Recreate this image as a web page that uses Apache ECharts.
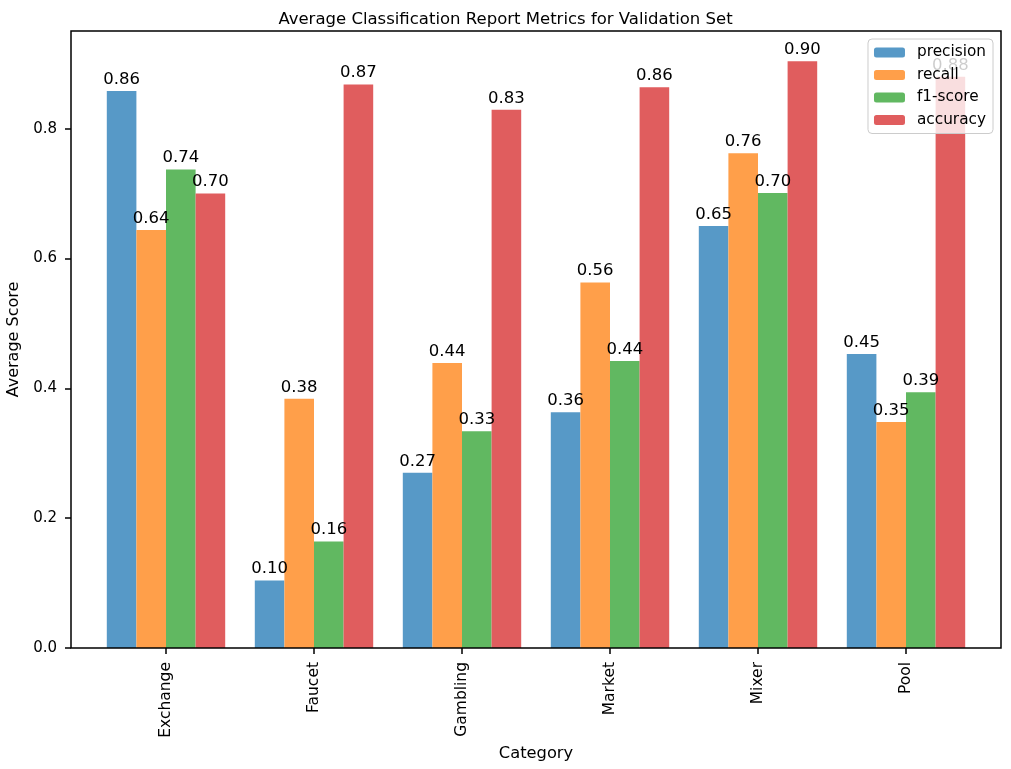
<!DOCTYPE html>
<html>
<head>
<meta charset="utf-8">
<script src="https://cdn.jsdelivr.net/npm/echarts@6/dist/echarts.min.js"></script>
<style>html,body{margin:0;padding:0;background:#fff}#c{width:1011px;height:769px}</style>
</head>
<body>
<div id="c"></div>
<script>
const categories = ['Exchange', 'Faucet', 'Gambling', 'Market', 'Mixer', 'Pool'];
const precision = [0.858, 0.104, 0.270, 0.363, 0.650, 0.453];
const recall = [0.644, 0.384, 0.439, 0.563, 0.762, 0.348];
const f1score = [0.737, 0.164, 0.334, 0.442, 0.701, 0.394];
const accuracy = [0.700, 0.868, 0.829, 0.864, 0.904, 0.880];
const seriesNames = ['precision', 'recall', 'f1-score', 'accuracy'];
// tab10 colours drawn at alpha 0.75 over white
const colors = ['#5799c7', '#ff9f4a', '#61b861', '#e05d5e'];
const yTicks = [0.0, 0.2, 0.4, 0.6, 0.8];

const FONT = 'DejaVu Sans';
const chart = echarts.init(document.getElementById('c'));
const seriesData = [precision, recall, f1score, accuracy];
const YMAX = 0.9505;

const series = seriesData.map((d, i) => ({
  name: seriesNames[i],
  type: 'bar',
  xAxisIndex: 0,
  yAxisIndex: 0,
  data: d,
  barWidth: 29.6,
  barGap: '0%',
  itemStyle: { color: colors[i] },
  label: {
    show: true, position: 'top', distance: 3,
    formatter: p => p.value.toFixed(2),
    color: '#000', fontFamily: FONT, fontSize: 16.5
  }
}));

chart.setOption({
  animation: false,
  backgroundColor: '#fff',
  title: {
    text: 'Average Classification Report Metrics for Validation Set',
    left: 'center', top: 6,
    textStyle: { fontFamily: FONT, fontSize: 16.5, fontWeight: 'normal', color: '#000' }
  },
  legend: {
    orient: 'vertical',
    right: 18, top: 39,
    data: seriesNames,
    itemWidth: 31, itemHeight: 10,
    itemGap: 7.5,
    padding: [6, 7, 6, 6],
    backgroundColor: 'rgba(255,255,255,0.8)',
    borderColor: '#ccc', borderWidth: 1, borderRadius: 4,
    textStyle: { fontFamily: FONT, fontSize: 15.3, color: '#000', padding: [0, 0, 0, 7] }
  },
  grid: [
    { left: 92, right: 31, top: 31, bottom: 121, containLabel: false, outerBoundsMode: 'none' },
    { left: 71, right: 10, top: 31, bottom: 121, containLabel: false, outerBoundsMode: 'none', show: true, borderColor: '#000', borderWidth: 1.5, backgroundColor: 'transparent', z: 10 }
  ],
  xAxis: [
    {
      type: 'category', gridIndex: 0, data: categories,
      axisLine: { show: false },
      axisTick: { show: true, alignWithLabel: true, length: 6, lineStyle: { color: '#000', width: 1.5 } },
      axisLabel: { rotate: 90, margin: 14, fontFamily: FONT, fontSize: 15.5, color: '#000' },
      name: 'Category', nameLocation: 'middle', nameGap: 95,
      nameTextStyle: { fontFamily: FONT, fontSize: 16.3, color: '#000' }
    },
    {
      type: 'value', gridIndex: 1, min: 0, max: 1,
      axisLine: { show: false }, axisTick: { show: false }, axisLabel: { show: false }, splitLine: { show: false }
    }
  ],
  yAxis: [
    {
      type: 'value', gridIndex: 0, min: 0, max: YMAX,
      axisLine: { show: false }, axisTick: { show: false }, axisLabel: { show: false }, splitLine: { show: false }
    },
    {
      type: 'value', gridIndex: 1, min: 0, max: YMAX, interval: 0.2,
      axisLine: { show: false },
      axisTick: { show: true, length: 6, customValues: yTicks, lineStyle: { color: '#000', width: 1.5 } },
      axisLabel: {
        margin: 14, fontFamily: FONT, fontSize: 15, color: '#000', customValues: yTicks,
        formatter: v => v.toFixed(1)
      },
      splitLine: { show: false },
      name: 'Average Score', nameLocation: 'middle', nameGap: 44,
      nameTextStyle: { fontFamily: FONT, fontSize: 16, color: '#000' }
    }
  ],
  series: series
});
</script>
</body>
</html>
